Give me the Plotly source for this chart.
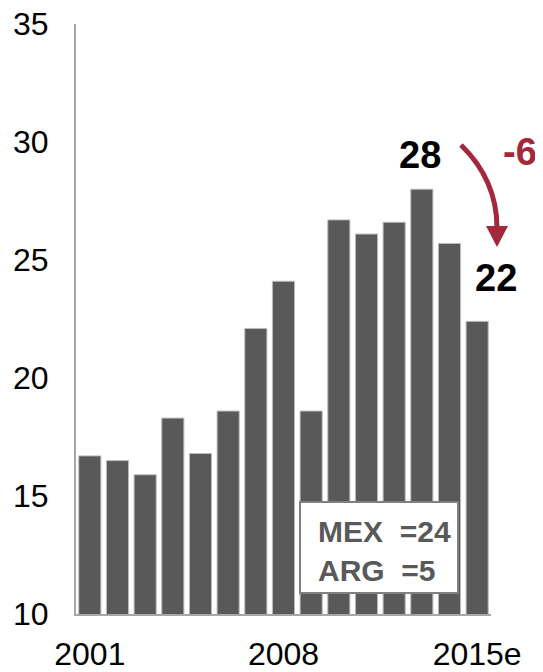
import plotly.graph_objects as go

years = ["2001", "2002", "2003", "2004", "2005", "2006", "2007", "2008",
         "2009", "2010", "2011", "2012", "2013", "2014", "2015e"]
values = [16.7, 16.5, 15.9, 18.3, 16.8, 18.6, 22.1, 24.1,
          18.6, 26.7, 26.1, 26.6, 28.0, 25.7, 22.4]
tick_labels = ["2001", "2008", "2015e"]
box_lines = ["MEX  =24", "ARG  =5"]
peak_label = "28"
last_label = "22"
change_label = "-6"

# page body has an 8px margin; size the figure so it ends at the window edge
OFF = 8
W, H = 543 - OFF, 672 - OFF
PLOT_L, PLOT_R, PLOT_T, PLOT_B = 76, 491, 24, 614  # in window pixels
L = PLOT_L - OFF
R = W - (PLOT_R - OFF)
T = PLOT_T - OFF
B = H - (PLOT_B - OFF)
PW, PH = PLOT_R - PLOT_L, PLOT_B - PLOT_T

def px(x):
    return (x - PLOT_L) / PW

def py(y):
    return (PLOT_B - y) / PH

FONT = "Liberation Sans, Arial, sans-serif"
RED = "#A3283C"

fig = go.Figure()
fig.add_trace(go.Bar(
    x=years, y=values, base=0,
    marker=dict(color="#595959", line=dict(color="#bdbdbd", width=1)),
    width=0.8, hoverinfo="skip",
))

fig.update_layout(
    width=W, height=H,
    margin=dict(l=L, r=R, t=T, b=B, autoexpand=False),
    paper_bgcolor="white", plot_bgcolor="white",
    showlegend=False,
    font=dict(family=FONT, size=32, color="black"),
    xaxis=dict(
        type="category", tickmode="array", tickvals=tick_labels, ticktext=tick_labels,
        showline=True, linecolor="#a6a6a6", linewidth=2, showgrid=False,
        ticks="", ticklabelstandoff=11, tickfont=dict(size=32),
        range=[-0.5, len(years) - 0.5], automargin=False,
        ticklabeloverflow="allow",
    ),
    yaxis=dict(
        range=[10, 35], tickvals=[10, 15, 20, 25, 30, 35],
        showline=True, linecolor="#a6a6a6", linewidth=2, showgrid=False,
        ticks="", ticklabelstandoff=19, tickfont=dict(size=32), zeroline=False,
        automargin=False, ticklabeloverflow="allow",
    ),
)

# legend-like box
fig.add_shape(type="rect", xref="paper", yref="paper",
              x0=px(300), x1=px(458), y0=py(593), y1=py(502),
              fillcolor="white", line=dict(color="#808080", width=2))
fig.add_annotation(xref="paper", yref="paper", x=px(316), y=py(531),
                   text="<b>%s</b>" % box_lines[0], showarrow=False,
                   xanchor="left", yanchor="middle",
                   font=dict(size=30, color="#595959", family=FONT))
fig.add_annotation(xref="paper", yref="paper", x=px(316), y=py(570),
                   text="<b>%s</b>" % box_lines[1], showarrow=False,
                   xanchor="left", yanchor="middle",
                   font=dict(size=30, color="#595959", family=FONT))

# value labels
fig.add_annotation(xref="paper", yref="paper", x=px(420), y=py(155),
                   text="<b>%s</b>" % peak_label, showarrow=False,
                   xanchor="center", yanchor="middle",
                   font=dict(size=38, color="black", family=FONT))
fig.add_annotation(xref="paper", yref="paper", x=px(496), y=py(278),
                   text="<b>%s</b>" % last_label, showarrow=False,
                   xanchor="center", yanchor="middle",
                   font=dict(size=38, color="black", family=FONT))
fig.add_annotation(xref="paper", yref="paper", x=px(520), y=py(152),
                   text="<b>%s</b>" % change_label, showarrow=False,
                   xanchor="center", yanchor="middle",
                   font=dict(size=38, color=RED, family=FONT))

# curved arrow
p0 = (px(461), py(145))
p1 = (px(497), py(180))
p2 = (px(497), py(228))
fig.add_shape(type="path", xref="paper", yref="paper",
              path="M %f,%f Q %f,%f %f,%f" % (p0[0], p0[1], p1[0], p1[1], p2[0], p2[1]),
              line=dict(color=RED, width=5))
h = [(px(486), py(226)), (px(508), py(226)), (px(497), py(247))]
fig.add_shape(type="path", xref="paper", yref="paper",
              path="M %f,%f L %f,%f L %f,%f Z" % (h[0][0], h[0][1], h[1][0], h[1][1], h[2][0], h[2][1]),
              fillcolor=RED, line=dict(color=RED, width=0))

fig.write_html("out.html")
